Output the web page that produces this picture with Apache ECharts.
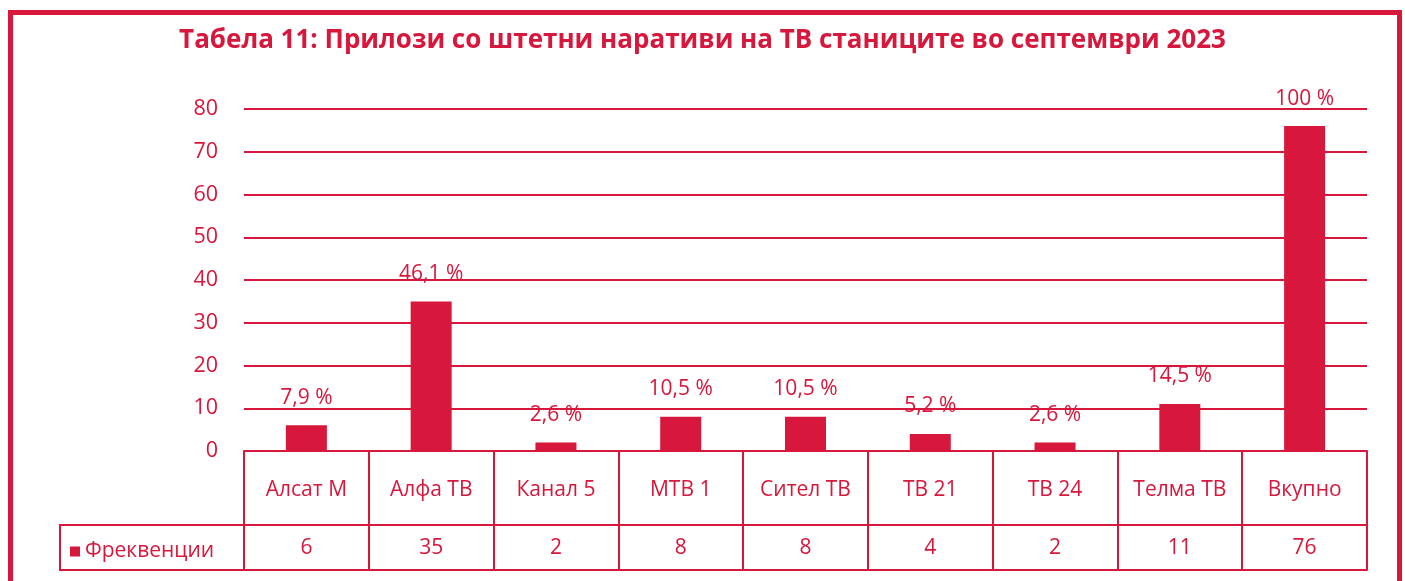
<!DOCTYPE html>
<html>
<head>
<meta charset="utf-8">
<script src="https://cdn.jsdelivr.net/npm/echarts@6/dist/echarts.min.js"></script>
<style>
  html, body { margin: 0; padding: 0; background: #fff; }
  #chart { width: 1405px; height: 581px; }
</style>
</head>
<body>
<div id="chart"></div>
<script>
// data
const stations = ['Алсат М', 'Алфа ТВ', 'Канал 5', 'МТВ 1', 'Сител ТВ', 'ТВ 21', 'ТВ 24', 'Телма ТВ', 'Вкупно'];
const frequencies = [6, 35, 2, 8, 8, 4, 2, 11, 76];
const shares = ['7,9 %', '46,1 %', '2,6 %', '10,5 %', '10,5 %', '5,2 %', '2,6 %', '14,5 %', '100 %'];
const yTicks = [0, 10, 20, 30, 40, 50, 60, 70, 80];

const red = '#d7173b';
const font = '"Open Sans", "Noto Sans", sans-serif';

const chart = echarts.init(document.getElementById('chart'));

const option = {
  animation: false,
  textStyle: { fontFamily: font, color: red },
  title: {
    text: 'Табела 11: Прилози со штетни наративи на ТВ станиците во септември 2023',
    left: 'center',
    top: 23,
    textStyle: { fontFamily: font, fontSize: 26, fontWeight: 'bold', color: red }
  },
  legend: {
    left: 65,
    top: 536,
    icon: 'rect',
    itemWidth: 10,
    itemHeight: 10,
    itemGap: 6,
    textStyle: { fontFamily: font, fontSize: 21, color: red },
    data: ['Фреквенции']
  },
  grid: { left: 244, right: 38, top: 109, bottom: 130 },
  xAxis: [
    {
      type: 'category',
      data: stations,
      axisLine: { lineStyle: { color: red, width: 2 } },
      axisTick: { show: true, length: 74, lineStyle: { color: red, width: 2 } },
      axisLabel: { color: red, fontSize: 21, fontFamily: font, margin: 29 }
    },
    {
      type: 'category',
      data: frequencies.map(String),
      position: 'bottom',
      offset: 74,
      axisLine: { lineStyle: { color: red, width: 2 } },
      axisTick: { show: true, length: 45, lineStyle: { color: red, width: 2 } },
      axisLabel: { color: red, fontSize: 21, fontFamily: font, margin: 13 }
    },
    {
      type: 'category',
      data: stations,
      position: 'bottom',
      offset: 119,
      axisLine: { lineStyle: { color: red, width: 2 } },
      axisTick: { show: false },
      axisLabel: { show: false }
    }
  ],
  yAxis: {
    type: 'value',
    min: yTicks[0],
    max: yTicks[yTicks.length - 1],
    interval: 10,
    axisLine: { show: false },
    axisTick: { show: false },
    axisLabel: { color: red, fontSize: 21.5, fontFamily: font, margin: 26 },
    splitLine: { lineStyle: { color: red, width: 2 } }
  },
  graphic: [
    {
      type: 'rect',
      shape: { x: 10.5, y: 12.5, width: 1389, height: 620 },
      style: { fill: 'none', stroke: red, lineWidth: 5 },
      silent: true
    },
    {
      type: 'rect',
      shape: { x: 60, y: 525, width: 184, height: 45 },
      style: { fill: 'none', stroke: red, lineWidth: 2 },
      silent: true
    }
  ],
  series: [
    {
      name: 'Фреквенции',
      type: 'bar',
      xAxisIndex: 0,
      data: frequencies,
      barWidth: 41,
      itemStyle: { color: red },
      label: {
        show: true,
        position: 'top',
        distance: 17,
        fontSize: 21,
        fontFamily: font,
        color: red,
        formatter: p => shares[p.dataIndex]
      }
    }
  ]
};

chart.setOption(option);
</script>
</body>
</html>
